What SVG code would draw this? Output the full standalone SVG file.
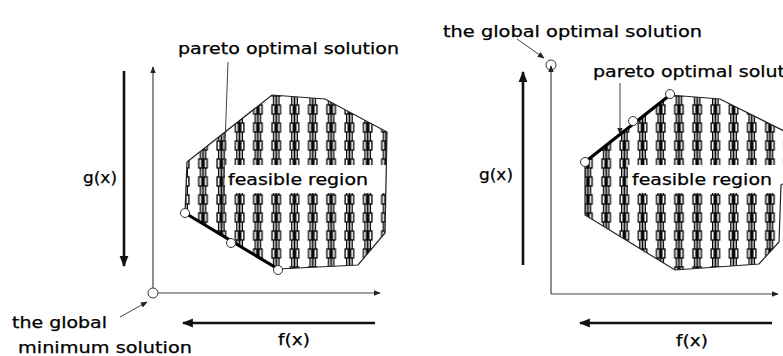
<svg xmlns="http://www.w3.org/2000/svg" width="783" height="356" viewBox="0 0 783 356">
<style>
.t{font-family:"DejaVu Sans","Liberation Sans",sans-serif;font-size:15px;fill:#000;stroke:#000;stroke-width:0.25}
.axis{stroke:#444;stroke-width:1.2;fill:none}
.thick{stroke:#111;stroke-width:2.6;fill:none}
.thin{stroke:#444;stroke-width:1;fill:none}
.poly{stroke:#222;stroke-width:1.2;fill:none}
.pareto{stroke:#000;stroke-width:3.2;fill:none}
.pt{stroke:#333;stroke-width:1;fill:#fff}
</style>
<defs>
<marker id="ah" viewBox="0 0 10 10" refX="9" refY="5" markerWidth="7" markerHeight="7" markerUnits="userSpaceOnUse" orient="auto"><path d="M0,1 L10,5 L0,9 Z" fill="#222"/></marker>
<marker id="ahb" viewBox="0 0 10 10" refX="9" refY="5" markerWidth="11" markerHeight="11" markerUnits="userSpaceOnUse" orient="auto"><path d="M0,1 L10,5 L0,9 Z" fill="#111"/></marker>
<pattern id="hatchL" patternUnits="userSpaceOnUse" x="193.85" y="103" width="18.3" height="18">
<g stroke="#000" stroke-width="1.3">
<line x1="6.4" y1="0" x2="6.4" y2="18"/><line x1="11.9" y1="0" x2="11.9" y2="18"/>
<rect x="4.9" y="2" width="3" height="9" fill="#fff"/><rect x="10.4" y="2" width="3" height="9" fill="#fff"/>
<line x1="9.15" y1="0" x2="9.15" y2="18" stroke-width="1.7"/>
</g>
</pattern>
<pattern id="hatchR" patternUnits="userSpaceOnUse" x="578.85" y="103" width="18.2" height="18">
<g stroke="#000" stroke-width="1.3">
<line x1="6.4" y1="0" x2="6.4" y2="18"/><line x1="11.8" y1="0" x2="11.8" y2="18"/>
<rect x="4.9" y="2" width="3" height="9" fill="#fff"/><rect x="10.3" y="2" width="3" height="9" fill="#fff"/>
<line x1="9.1" y1="0" x2="9.1" y2="18" stroke-width="1.7"/>
</g>
</pattern>
<clipPath id="clipL"><polygon points="187,162 272,95 325,99 387,132 385,233 358,265 278,269 185,213"/></clipPath>
<clipPath id="clipR"><polygon points="585,162 670,95 720,99 790,134 790,180 781,185 779,242 759,264 675,270 585,215"/></clipPath>
</defs>

<g id="left-region">
<polygon points="187,162 272,95 325,99 387,132 385,233 358,265 278,269 185,213" fill="url(#hatchL)"/>
<rect x="225" y="165" width="165" height="28" fill="#fff" clip-path="url(#clipL)"/>
<polygon class="poly" points="187,162 272,95 325,99 387,132 385,233 358,265 278,269 185,213"/>
<text class="t" x="228" y="185" textLength="140" lengthAdjust="spacingAndGlyphs">feasible region</text>
</g>
<g id="left-pareto">
<line class="pareto" x1="185" y1="213" x2="278" y2="269"/>
<circle class="pt" cx="185" cy="213" r="4.5"/>
<circle class="pt" cx="231" cy="243" r="4.5"/>
<circle class="pt" cx="278" cy="270" r="4.5"/>
<text class="t" x="178" y="54" textLength="221" lengthAdjust="spacingAndGlyphs">pareto optimal solution</text>
</g>
<g id="left-origin">
<circle class="pt" cx="153" cy="293" r="5"/>
<text class="t" x="12" y="328" textLength="95" lengthAdjust="spacingAndGlyphs">the global</text>
<text class="t" x="18" y="353" textLength="174" lengthAdjust="spacingAndGlyphs">minimum solution</text>
</g>
<g id="left-labels">
<text class="t" x="83" y="183" textLength="34" lengthAdjust="spacingAndGlyphs">g(x)</text>
<text class="t" x="278" y="345" textLength="32" lengthAdjust="spacingAndGlyphs">f(x)</text>
</g>

<g id="right-region">
<polygon points="585,162 670,95 720,99 790,134 790,180 781,185 779,242 759,264 675,270 585,215" fill="url(#hatchR)"/>
<rect x="628" y="165" width="160" height="28" fill="#fff" clip-path="url(#clipR)"/>
<polygon class="poly" points="585,162 670,95 720,99 790,134 790,180 781,185 779,242 759,264 675,270 585,215"/>
<text class="t" x="632" y="185" textLength="140" lengthAdjust="spacingAndGlyphs">feasible region</text>
</g>
<g id="right-pareto">
<line class="pareto" x1="585" y1="162" x2="670" y2="95"/>
<circle class="pt" cx="585" cy="162" r="4.5"/>
<circle class="pt" cx="633" cy="121" r="4.5"/>
<circle class="pt" cx="670" cy="94" r="4.5"/>
<text class="t" x="593" y="77" textLength="221" lengthAdjust="spacingAndGlyphs">pareto optimal solution</text>
</g>
<g id="right-optimum">
<circle class="pt" cx="551" cy="65" r="5"/>
<text class="t" x="443" y="37" textLength="259" lengthAdjust="spacingAndGlyphs">the global optimal solution</text>
</g>
<g id="right-labels">
<text class="t" x="479" y="180" textLength="34" lengthAdjust="spacingAndGlyphs">g(x)</text>
<text class="t" x="676" y="346" textLength="32" lengthAdjust="spacingAndGlyphs">f(x)</text>
</g>

<g id="connectors">
<line class="axis" x1="153" y1="288" x2="153" y2="67" marker-end="url(#ah)"/>
<line class="axis" x1="158" y1="293" x2="380" y2="293" marker-end="url(#ah)"/>
<line class="thick" x1="124" y1="71" x2="124" y2="266" marker-end="url(#ahb)"/>
<line class="thick" x1="375" y1="323" x2="183" y2="323" marker-end="url(#ahb)"/>
<line class="thin" x1="120" y1="317" x2="147" y2="302" marker-end="url(#ah)"/>
<line class="thin" x1="228" y1="62" x2="222" y2="228"/>

<line class="axis" x1="551" y1="294" x2="551" y2="66" marker-end="url(#ah)"/>
<line class="axis" x1="551" y1="294" x2="778" y2="294" marker-end="url(#ah)"/>
<line class="thick" x1="523" y1="265" x2="523" y2="72" marker-end="url(#ahb)"/>
<line class="thick" x1="772" y1="323" x2="580" y2="323" marker-end="url(#ahb)"/>
<line class="thin" x1="517" y1="39" x2="544" y2="58" marker-end="url(#ah)"/>
<line class="thin" x1="620" y1="83" x2="620" y2="134" marker-end="url(#ah)"/>
</g>
</svg>
